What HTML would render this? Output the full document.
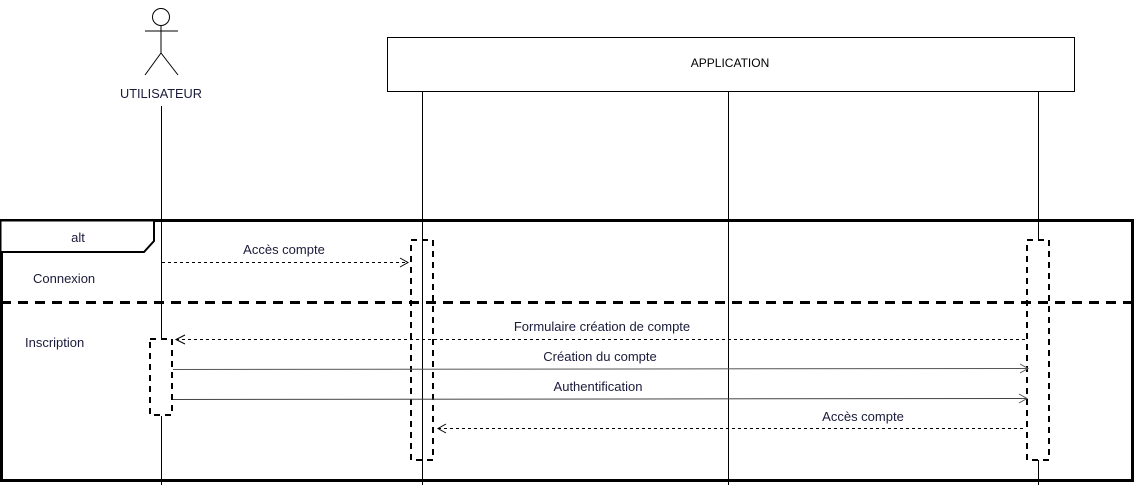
<!DOCTYPE html>
<html><head><meta charset="utf-8"><style>
html,body{margin:0;padding:0;background:#fff;}
svg{display:block;}
text{font-family:"Liberation Sans",sans-serif;font-size:13px;fill:#1a1a3a;}
</style></head><body>
<svg width="1146" height="485" viewBox="0 0 1146 485" xmlns="http://www.w3.org/2000/svg">
<!-- actor -->
<g stroke="#000" stroke-width="1" fill="none">
<circle cx="161" cy="17" r="8.5"/>
<line x1="145" y1="31" x2="178" y2="31"/>
<line x1="161" y1="26" x2="161" y2="53"/>
<line x1="161" y1="53" x2="145" y2="75"/>
<line x1="161" y1="53" x2="178" y2="75"/>
</g>
<text x="161" y="98" text-anchor="middle" style="font-size:13px" textLength="82" lengthAdjust="spacingAndGlyphs">UTILISATEUR</text>
<!-- application box -->
<rect x="387.5" y="37.5" width="687" height="54" fill="#fff" stroke="#000"/>
<text x="730" y="67" text-anchor="middle" style="font-size:12px;fill:#000">APPLICATION</text>
<!-- lifelines -->
<g stroke="#000" stroke-width="1">
<line x1="161.5" y1="106" x2="161.5" y2="339"/>
<line x1="161.5" y1="416" x2="161.5" y2="485"/>
<line x1="422.5" y1="91" x2="422.5" y2="485"/>
<line x1="728.5" y1="91" x2="728.5" y2="485"/>
<line x1="1038.5" y1="91" x2="1038.5" y2="239"/>
<line x1="1038.5" y1="460" x2="1038.5" y2="485"/>
</g>
<!-- frame -->
<rect x="1.5" y="220.5" width="1131" height="260" fill="none" stroke="#000" stroke-width="3"/>
<path d="M1.5 220.5 H154 V241 L144 252 H1.5" fill="#fff" stroke="#000" stroke-width="2"/>
<text x="78" y="242" text-anchor="middle">alt</text>
<line x1="1" y1="302.5" x2="1133" y2="302.5" stroke="#000" stroke-width="3" stroke-dasharray="10,7"/>
<text x="33" y="283">Connexion</text>
<text x="25" y="347">Inscription</text>
<!-- activations -->
<g fill="none" stroke="#000" stroke-width="2" stroke-dasharray="6,5">
<rect x="150" y="339" width="22" height="76"/>
<rect x="411" y="240" width="22" height="220"/>
<rect x="1027" y="240" width="22" height="220"/>
</g>
<!-- messages -->
<g stroke="#000" stroke-width="1" fill="none">
<line x1="162" y1="262.5" x2="408" y2="262.5" stroke-dasharray="3,3"/>
<path d="M400 258 L408 262.5 L400 267"/>
<line x1="176" y1="339.5" x2="1026" y2="339.5" stroke-dasharray="3,3"/>
<path d="M185 335 L176 339.5 L185 344"/>
<line x1="173" y1="369.5" x2="1028" y2="368.5" stroke="#555"/>
<path d="M1020 364 L1028 368.5 L1020 373" stroke="#555"/>
<line x1="173" y1="399.5" x2="1027" y2="398.5" stroke="#444"/>
<path d="M1019 394 L1027 398.5 L1019 403" stroke="#555"/>
<line x1="438" y1="428.5" x2="1026" y2="428.5" stroke-dasharray="3,3"/>
<path d="M446 424 L438 428.5 L446 433"/>
</g>
<text x="284" y="254" text-anchor="middle">Accès compte</text>
<text x="602" y="331" text-anchor="middle">Formulaire création de compte</text>
<text x="600" y="361" text-anchor="middle">Création du compte</text>
<text x="598" y="391" text-anchor="middle">Authentification</text>
<text x="863" y="421" text-anchor="middle">Accès compte</text>
</svg>
</body></html>
